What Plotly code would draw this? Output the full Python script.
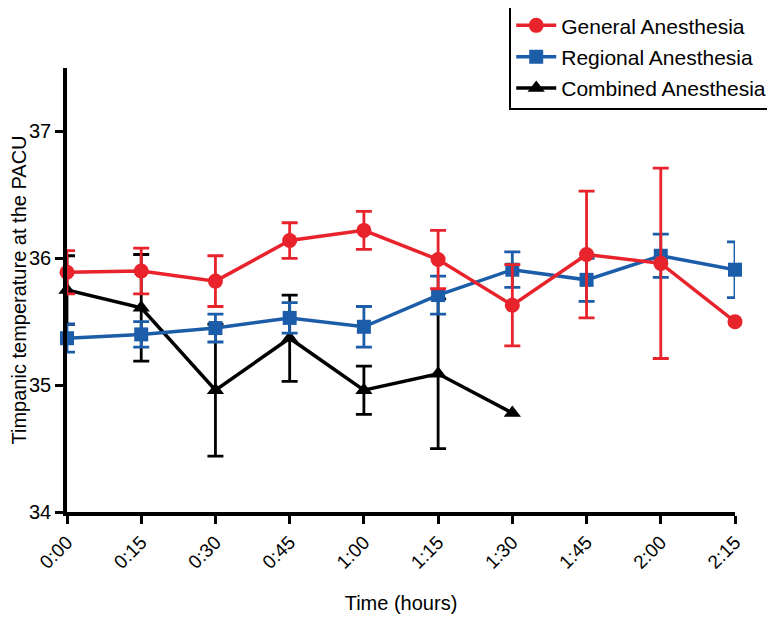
import numpy as np
import plotly.graph_objects as go

times = ["0:00", "0:15", "0:30", "0:45", "1:00", "1:15", "1:30", "1:45", "2:00", "2:15"]

general_mean = [35.89, 35.90, 35.82, 36.14, 36.22, 35.99, 35.63, 36.03, 35.96, 35.50]
general_err = [0.17, 0.18, 0.20, 0.14, 0.15, 0.23, 0.32, 0.50, 0.75, None]

regional_mean = [35.37, 35.40, 35.45, 35.53, 35.46, 35.71, 35.91, 35.83, 36.02, 35.91]
regional_err = [0.11, 0.10, 0.11, 0.12, 0.16, 0.15, 0.14, 0.17, 0.17, 0.22]

combined_mean = [35.75, 35.61, 34.96, 35.37, 34.96, 35.09, 34.78]
combined_err = [0.27, 0.42, 0.52, 0.34, 0.19, 0.59, None]

y_ticks = [34, 35, 36, 37]

RED = "#E8232B"
BLUE = "#1C5DAA"
BLACK = "#000000"

FONT = "Liberation Sans, Arial, Helvetica, sans-serif"

xs = list(range(len(times)))

fig = go.Figure()


def add(name, mean, err, color, symbol, size, rank):
    x = xs[: len(mean)]
    err_vals = np.array([np.nan if e is None else e for e in err], dtype=float)
    fig.add_trace(
        go.Scatter(
            x=x,
            y=mean,
            name=name,
            mode="lines+markers",
            line=dict(color=color, width=3.5),
            marker=dict(color=color, symbol=symbol, size=size, line=dict(width=0)),
            error_y=dict(type="data", array=err_vals, visible=True, color=color,
                         thickness=2.8, width=8),
            cliponaxis=False,
            legendrank=rank,
            legendgroup=name,
        )
    )


add("Combined Anesthesia", combined_mean, combined_err, BLACK, "triangle-up", 15, 3)
add("Regional Anesthesia", regional_mean, regional_err, BLUE, "square", 14, 2)
add("General Anesthesia", general_mean, general_err, RED, "circle", 15, 1)

fig.update_layout(
    width=775,
    height=623,
    paper_bgcolor="white",
    plot_bgcolor="white",
    margin=dict(l=59, r=48, t=59.5, b=119, autoexpand=False),
    font=dict(family=FONT, color="black", size=20),
    showlegend=True,
    legend=dict(
        x=0.662,
        y=1.146,
        xanchor="left",
        yanchor="top",
        bordercolor="black",
        borderwidth=2,
        bgcolor="white",
        font=dict(family=FONT, size=21, color="black"),
        traceorder="grouped",
        tracegroupgap=1,
        itemwidth=40,
    ),
    xaxis=dict(
        range=[0, 9],
        tickmode="array",
        tickvals=xs,
        ticktext=times,
        tickangle=-45,
        ticks="outside",
        ticklen=8,
        tickwidth=3,
        tickcolor="black",
        showline=True,
        linecolor="black",
        linewidth=3.5,
        showgrid=False,
        zeroline=False,
        tickfont=dict(size=19),
        title=dict(text="Time (hours)", font=dict(size=20), standoff=25),
    ),
    yaxis=dict(
        range=[34, 37.5],
        tickmode="array",
        tickvals=y_ticks,
        ticktext=[str(v) for v in y_ticks],
        ticks="outside",
        ticklen=8,
        tickwidth=3,
        tickcolor="black",
        showline=True,
        linecolor="black",
        linewidth=3.5,
        showgrid=False,
        zeroline=False,
        tickfont=dict(size=20),
        title=dict(text="Timpanic temperature at the PACU", font=dict(size=20), standoff=19),
    ),
)

fig.write_html("out.html")
